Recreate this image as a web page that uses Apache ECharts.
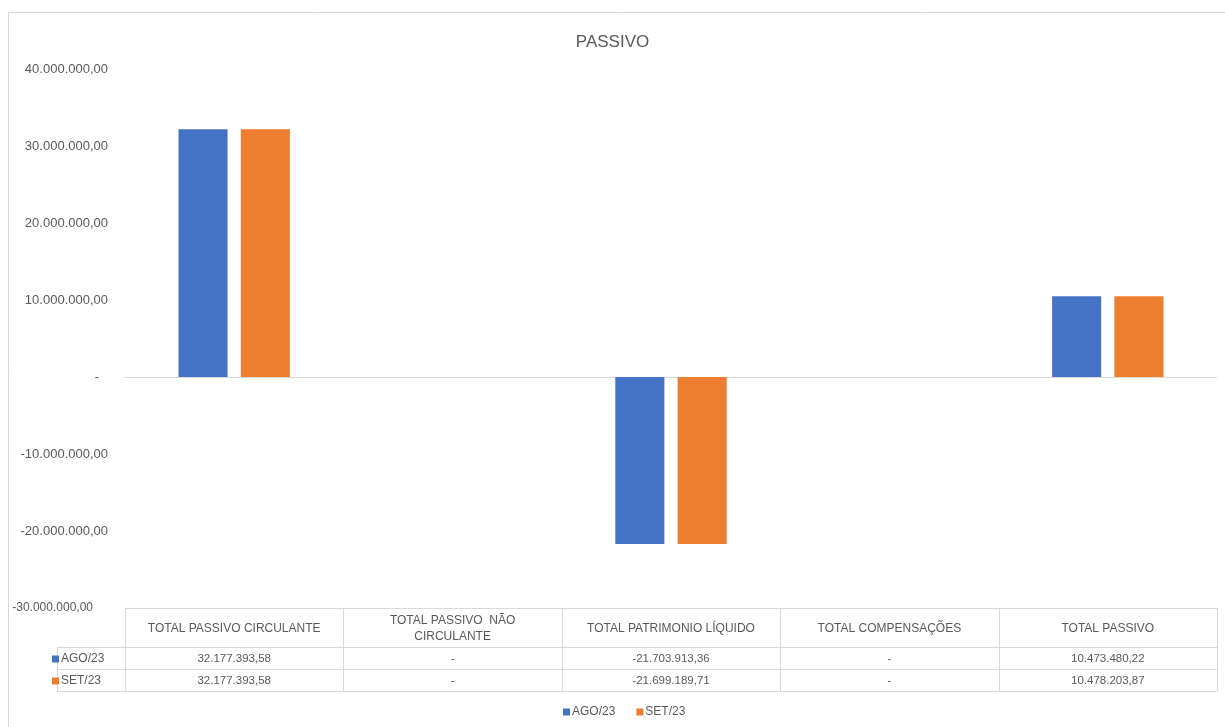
<!DOCTYPE html>
<html>
<head>
<meta charset="utf-8">
<script src="https://cdn.jsdelivr.net/npm/echarts@6/dist/echarts.min.js"></script>
<style>
html,body{margin:0;padding:0;background:#fff;}
#c{width:1225px;height:727px;}
</style>
</head>
<body>
<div id="c"></div>
<script>
const categories = ['TOTAL PASSIVO CIRCULANTE', 'TOTAL PASSIVO  NÃO CIRCULANTE', 'TOTAL PATRIMONIO LÍQUIDO', 'TOTAL COMPENSAÇÕES', 'TOTAL PASSIVO'];
const tableHeaders = ['TOTAL PASSIVO CIRCULANTE', 'TOTAL PASSIVO  NÃO\nCIRCULANTE', 'TOTAL PATRIMONIO LÍQUIDO', 'TOTAL COMPENSAÇÕES', 'TOTAL PASSIVO'];
const seriesNames = ['AGO/23', 'SET/23'];
const ago23 = [32177393.58, 0, -21703913.36, 0, 10473480.22];
const set23 = [32177393.58, 0, -21699189.71, 0, 10478203.87];
const yMin = -30000000, yMax = 40000000, yStep = 10000000;

const COLORS = ['#4472C4', '#ED7D31'];
const TXT = '#595959';
const LINE = '#D9D9D9';
const FONT = '"Liberation Sans", Arial, sans-serif';

function fmtBR(v) {
  if (v === 0) return '-';
  const neg = v < 0;
  const s = Math.abs(v).toFixed(2);
  let [ip, dp] = s.split('.');
  ip = ip.replace(/\B(?=(\d{3})+(?!\d))/g, '.');
  return (neg ? '-' : '') + ip + ',' + dp;
}

const W = 1225, H = 727;
const gridLeft = 125, gridRight = 8, gridTop = 69, gridBottom = 119;
const plotR = W - gridRight;
const colW = (plotR - gridLeft) / categories.length;
const tTop = H - gridBottom, tHead = 647, tRow1 = 669, tRow2 = 691, keyLeft = 57;

const graphic = [];
// frame
graphic.push({type:'line', shape:{x1:8.5,y1:12.5,x2:W,y2:12.5}, style:{stroke:LINE, lineWidth:1}, silent:true});
graphic.push({type:'line', shape:{x1:8.5,y1:12.5,x2:8.5,y2:H}, style:{stroke:LINE, lineWidth:1}, silent:true});
// table lines
graphic.push({type:'line', shape:{x1:gridLeft,y1:tTop+0.5,x2:plotR,y2:tTop+0.5}, style:{stroke:LINE}, silent:true});
[tHead, tRow1, tRow2].forEach(y => graphic.push({type:'line', shape:{x1:keyLeft,y1:y+0.5,x2:plotR,y2:y+0.5}, style:{stroke:LINE}, silent:true}));
graphic.push({type:'line', shape:{x1:keyLeft+0.5,y1:tHead,x2:keyLeft+0.5,y2:tRow2}, style:{stroke:LINE}, silent:true});
for (let i = 0; i <= categories.length; i++) {
  const x = Math.round(gridLeft + i * colW) + 0.5;
  graphic.push({type:'line', shape:{x1:x,y1:tTop,x2:x,y2:tRow2}, style:{stroke:LINE}, silent:true});
}
// header text
tableHeaders.forEach((h, i) => {
  graphic.push({type:'text', x: gridLeft + (i + 0.5) * colW, y: (tTop + tHead) / 2 + 1,
    style:{text:h, fill:TXT, font:'12px ' + FONT, align:'center', verticalAlign:'middle', lineHeight:16}, silent:true});
});
// rows
[ago23, set23].forEach((arr, r) => {
  const yc = r === 0 ? (tHead + tRow1) / 2 + 1 : (tRow1 + tRow2) / 2 + 1;
  graphic.push({type:'rect', shape:{x:52, y:yc-3.5, width:7, height:7}, style:{fill:COLORS[r]}, silent:true});
  graphic.push({type:'text', x:61, y:yc, style:{text:seriesNames[r], fill:TXT, font:'12px ' + FONT, align:'left', verticalAlign:'middle'}, silent:true});
  arr.forEach((v, i) => {
    graphic.push({type:'text', x: gridLeft + (i + 0.5) * colW, y: yc,
      style:{text:fmtBR(v), fill:TXT, font:'11.5px ' + FONT, align:'center', verticalAlign:'middle'}, silent:true});
  });
});

const option = {
  animation: false,
  backgroundColor: '#fff',
  color: COLORS,
  title: {text:'PASSIVO', left:'center', top:29, textStyle:{color:TXT, fontSize:17, fontWeight:'normal', fontFamily:FONT}},
  legend: {bottom:4, left:558, itemWidth:7, itemHeight:7, itemGap:21, icon:'rect',
    textStyle:{color:TXT, fontSize:12, fontFamily:FONT, padding:[0,0,0,-3]}, data: seriesNames},
  grid: {left:gridLeft, right:gridRight, top:gridTop, bottom:gridBottom, containLabel:false},
  xAxis: {type:'category', data:categories, axisLine:{onZero:true, lineStyle:{color:LINE}}, axisTick:{show:false}, axisLabel:{show:false}, splitLine:{show:false}},
  yAxis: {type:'value', min:yMin, max:yMax, interval:yStep,
    axisLine:{show:false}, axisTick:{show:false}, splitLine:{show:false},
    axisLabel:{margin:17, color:TXT, fontSize:13, fontFamily:FONT, align:'right',
      formatter: v => v === 0 ? '{z|-}' : (v === yMin ? '{b|' + fmtBR(v) + '}' : fmtBR(v)),
      rich:{
        z:{color:TXT, fontSize:13, fontFamily:FONT, padding:[0,9,0,0]},
        b:{color:TXT, fontSize:12, fontFamily:FONT, padding:[0,15,0,0]}
      }}},
  series: [
    {name:seriesNames[0], type:'bar', data:ago23, barCategoryGap:'49%', barGap:'27%'},
    {name:seriesNames[1], type:'bar', data:set23, barCategoryGap:'49%', barGap:'27%'}
  ],
  graphic: graphic
};
const chart = echarts.init(document.getElementById('c'));
chart.setOption(option);
</script>
</body>
</html>
